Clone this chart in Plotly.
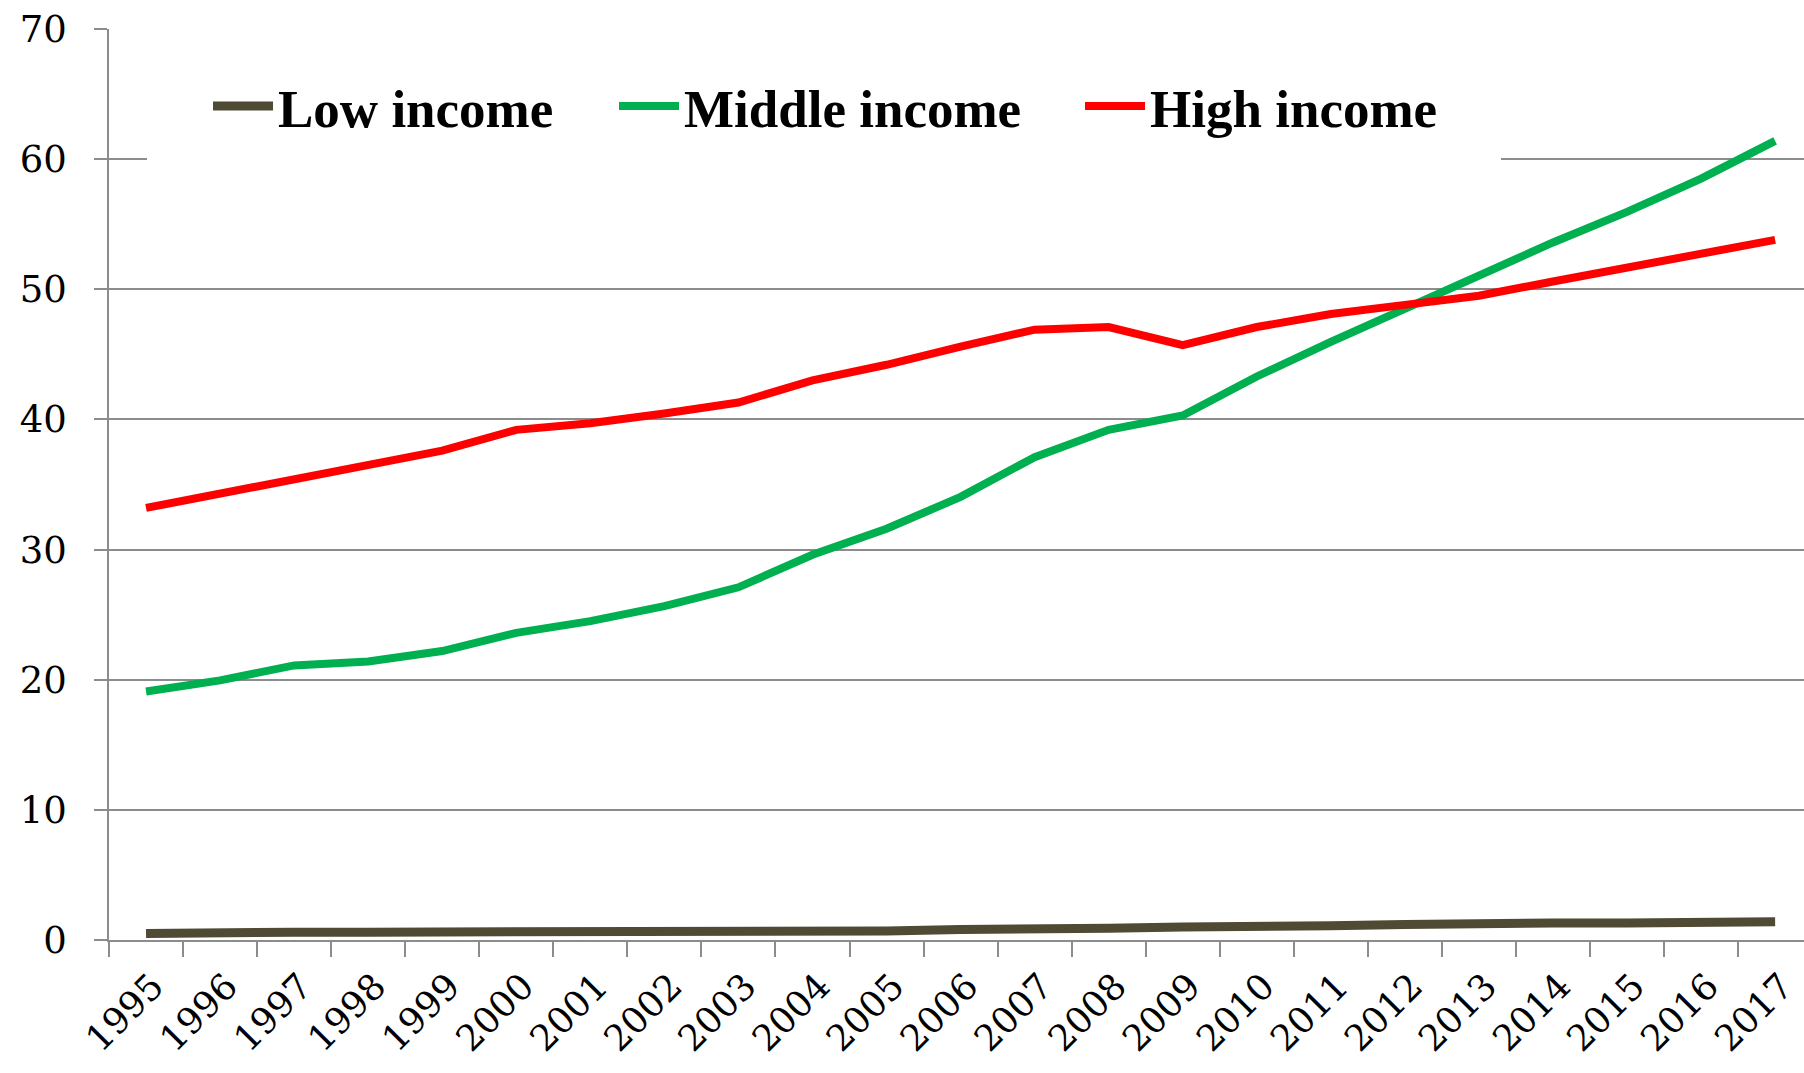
import plotly.graph_objects as go

years = [str(y) for y in range(1995, 2018)]
low_income = [0.5, 0.6, 0.6, 0.6, 0.6, 0.6, 0.6, 0.7, 0.7, 0.7, 0.7, 0.8, 0.8,
              0.9, 1.0, 1.0, 1.1, 1.2, 1.3, 1.3, 1.3, 1.35, 1.4]
middle_income = [19.1, 19.95, 21.1, 21.4, 22.2, 23.6, 24.5, 25.65, 27.1, 29.6, 31.6,
                 34.05, 37.1, 39.2, 40.3, 43.3, 45.95, 48.5, 51.0, 53.6, 55.95, 58.5, 61.4]
high_income = [33.2, 34.3, 35.5, 36.6, 37.6, 39.2, 39.7, 40.45, 41.3, 43.0, 44.2,
               45.6, 46.9, 47.1, 45.7, 47.1, 48.1, 48.8, 49.5, 50.6, 51.7, 52.7, 53.8]
y_ticks = [0, 10, 20, 30, 40, 50, 60, 70]

W, H = 1804, 1073
L, R, T, B = 109, 0, 29, 133
pw, ph = W - L - R, H - T - B

def px_x(p):
    return (p - L) / pw

def px_y(p):
    return (H - B - p) / ph

series = [
    ("Low income", low_income, "#4f4a33", "legend", 9),
    ("Middle income", middle_income, "#00b050", "legend2", 8),
    ("High income", high_income, "#ff0000", "legend3", 8),
]

fig = go.Figure()
for name, vals, col, lg, lw in series:
    fig.add_trace(go.Scatter(x=years, y=vals, name=name, mode="lines",
                             line=dict(color=col, width=lw), legend=lg))

legfont = dict(family="Liberation Serif", size=53, color="#000000", weight="bold")
leg_common = dict(orientation="h", font=legfont, bgcolor="rgba(0,0,0,0)",
                  itemwidth=60, yanchor="middle", xanchor="left", y=px_y(106))

cat_w = 74.05
fig.update_layout(
    width=W, height=H,
    margin=dict(l=L, r=R, t=T, b=B, autoexpand=False),
    paper_bgcolor="white", plot_bgcolor="white",
    showlegend=True,
    legend=dict(**leg_common, x=px_x(208)),
    legend2=dict(**leg_common, x=px_x(614)),
    legend3=dict(**leg_common, x=px_x(1080)),
    xaxis=dict(type="category", range=[-0.5, -0.5 + pw / cat_w],
               showgrid=False, showline=True, linecolor="#8c8c8c", linewidth=1.5,
               ticks="outside", tickson="boundaries", ticklen=15, tickcolor="#8c8c8c",
               tickwidth=1.5, tickangle=-45, ticklabelstandoff=9, ticklabelshift=7,
               tickfont=dict(family="DejaVu Serif", size=36, color="#000000"),
               automargin=False, fixedrange=True),
    yaxis=dict(range=[0, 70], tickvals=y_ticks, showgrid=True, gridcolor="#8c8c8c",
               gridwidth=1.5, showline=True, linecolor="#8c8c8c", linewidth=1.5,
               ticks="outside", ticklen=13, tickcolor="#8c8c8c", tickwidth=1.5,
               ticklabelstandoff=20, zeroline=False,
               tickfont=dict(family="DejaVu Serif", size=37, color="#000000"),
               automargin=False, fixedrange=True),
    shapes=[dict(type="rect", xref="paper", yref="paper",
                 x0=px_x(147), x1=px_x(1501), y0=px_y(175), y1=px_y(45),
                 fillcolor="white", line=dict(width=0), layer="above")],
)

fig.write_html("out.html", config={"displayModeBar": False},
               post_script="document.body.style.margin='0px';")
